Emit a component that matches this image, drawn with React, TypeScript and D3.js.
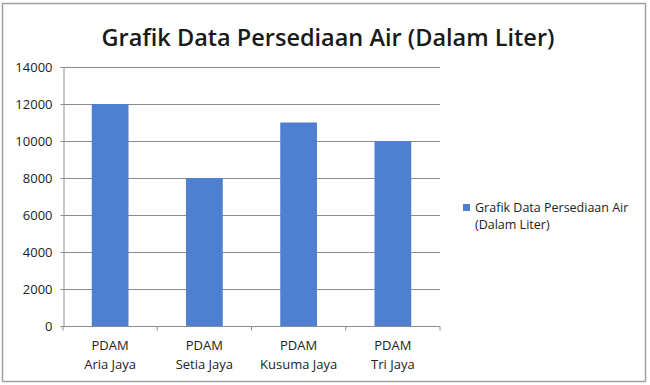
import { useEffect, useRef } from "react";
import * as d3 from "d3";

const categories = ["PDAM|Aria Jaya", "PDAM|Setia Jaya", "PDAM|Kusuma Jaya", "PDAM|Tri Jaya"];
const values = [12000, 8000, 11000, 10000];
const yTicks = [0, 2000, 4000, 6000, 8000, 10000, 12000, 14000];
const title = "Grafik Data Persediaan Air (Dalam Liter)";
const legendLines = ["Grafik Data Persediaan Air", "(Dalam Liter)"];

export default function App() {
  const svgRef = useRef<SVGSVGElement>(null);

  useEffect(() => {
    if (!svgRef.current) return;
    const width = 650;
    const height = 385;
    const font = "'Open Sans', 'Noto Sans', sans-serif";
    const barColor = "#4f7fcf";

    const svg = d3.select(svgRef.current);
    svg.selectAll("*").remove();

    // chart frame
    svg.append("rect").attr("width", width).attr("height", height).attr("fill", "#fff");
    svg.append("rect")
      .attr("x", 2.5).attr("y", 3.5).attr("width", 643).attr("height", 378)
      .attr("fill", "#fff").attr("stroke", "#a0a0a0").attr("stroke-width", 1.5);

    svg.append("text")
      .attr("x", 328).attr("y", 46)
      .attr("text-anchor", "middle")
      .attr("font-family", font).attr("font-weight", 600).attr("font-size", 23.5)
      .attr("fill", "#1a1a1a")
      .text(title);

    const left = 63, right = 440, top = 67, bottom = 326;
    const x = d3.scaleBand().domain(categories).range([left, right]).paddingInner(0).paddingOuter(0);
    const y = d3.scaleLinear().domain([0, 14000]).range([bottom, top]);

    // gridlines
    svg.append("g").selectAll("line").data(yTicks.filter((t) => t > 0)).enter().append("line")
      .attr("x1", left).attr("x2", right)
      .attr("y1", (d) => Math.round(y(d)) + 0.5).attr("y2", (d) => Math.round(y(d)) + 0.5)
      .attr("stroke", "#8c8c8c").attr("stroke-width", 1);

    // bars
    const bw = x.bandwidth() * 0.39;
    svg.append("g").selectAll("rect").data(values).enter().append("rect")
      .attr("x", (d, i) => (x(categories[i]) as number) + x.bandwidth() / 2 - bw / 2)
      .attr("width", bw)
      .attr("y", (d) => y(d))
      .attr("height", (d) => bottom - y(d))
      .attr("fill", barColor);

    // y axis
    const yAxis = svg.append("g").attr("transform", `translate(${left + 0.5},0)`)
      .call(d3.axisLeft(y).tickValues(yTicks).tickSize(3).tickPadding(8).tickFormat(d3.format("d")));
    yAxis.selectAll("path, line").attr("stroke", "#8c8c8c");
    yAxis.selectAll("text").attr("font-family", font).attr("font-size", 13).attr("fill", "#222");

    // x axis
    const xAxisG = svg.append("g").attr("transform", `translate(0,${bottom + 0.5})`);
    xAxisG.append("line").attr("x1", left).attr("x2", right).attr("stroke", "#8c8c8c");
    xAxisG.selectAll("line.tick").data(d3.range(categories.length + 1)).enter().append("line")
      .attr("class", "tick")
      .attr("x1", (i) => left + i * x.step()).attr("x2", (i) => left + i * x.step())
      .attr("y1", 0).attr("y2", 4).attr("stroke", "#8c8c8c");

    const labels = xAxisG.selectAll("text").data(categories).enter().append("text")
      .attr("x", (d) => (x(d) as number) + x.bandwidth() / 2)
      .attr("text-anchor", "middle")
      .attr("font-family", font).attr("font-size", 13).attr("fill", "#222");
    labels.append("tspan").attr("y", 23).attr("x", (d) => (x(d) as number) + x.bandwidth() / 2).text((d) => d.split("|")[0]);
    labels.append("tspan").attr("y", 42).attr("x", (d) => (x(d) as number) + x.bandwidth() / 2).text((d) => d.split("|")[1]);

    // legend
    const lg = svg.append("g").attr("transform", "translate(463,204)");
    lg.append("rect").attr("width", 7).attr("height", 7).attr("fill", barColor);
    lg.selectAll("text").data(legendLines).enter().append("text")
      .attr("x", 12).attr("y", (d, i) => 8 + i * 17)
      .attr("font-family", font).attr("font-size", 12.5).attr("fill", "#222")
      .text((d) => d);
  }, []);

  return (
    <svg ref={svgRef} width={650} height={385}
      style={{ position: "absolute", left: 0, top: 0, display: "block" }} />
  );
}
